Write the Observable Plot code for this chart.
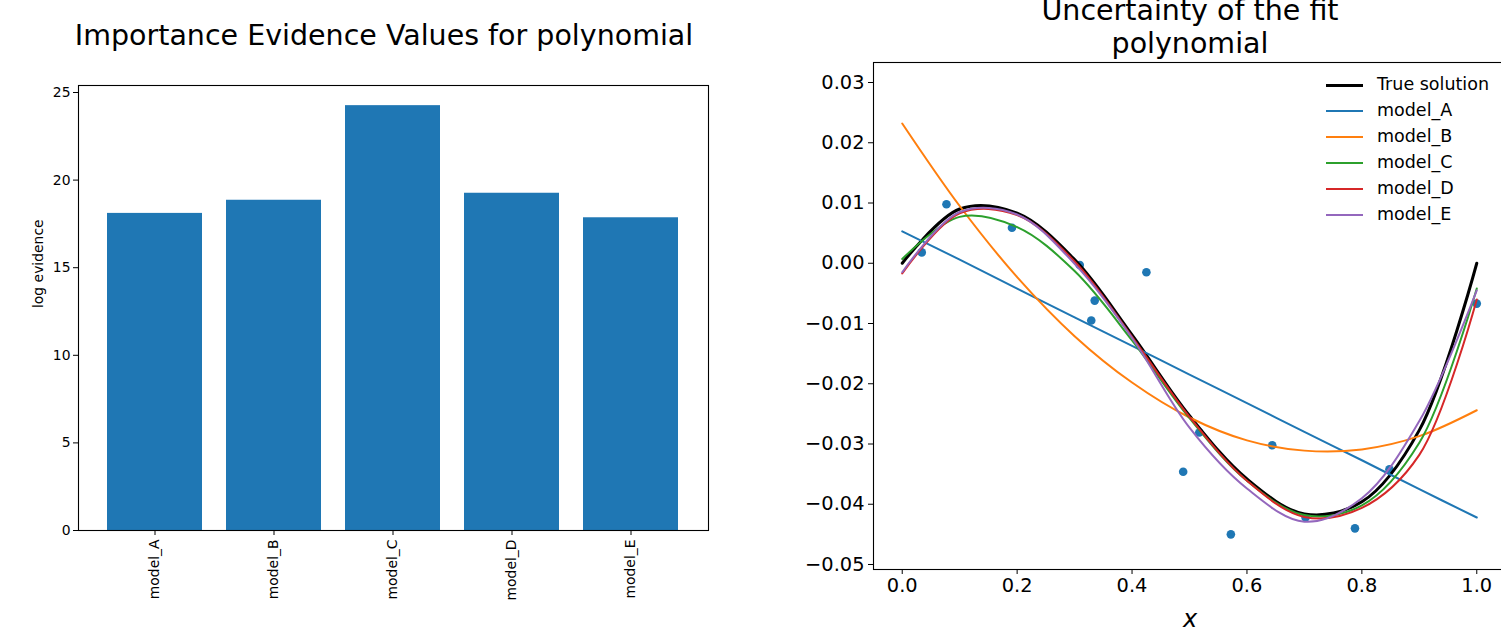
<!DOCTYPE html>
<html>
<head>
<meta charset="utf-8">
<script src="https://cdn.jsdelivr.net/npm/d3@7"></script>
<script src="https://cdn.jsdelivr.net/npm/@observablehq/plot@0.6"></script>
<style>
  html, body { margin: 0; padding: 0; background: #fff; }
  body { width: 1501px; height: 637px; overflow: hidden; position: relative; font-family: "DejaVu Sans", sans-serif; color: #000; }
  .abs { position: absolute; white-space: nowrap; }
  .title { font-size: 28.5px; line-height: 28px; transform: translateX(-50%); text-align: center; }
  .leg { font-size: 17.5px; line-height: 20px; }
  svg { max-width: none !important; }
</style>
</head>
<body>
<div id="left" class="abs" style="left:0;top:0;width:750px;height:637px;"></div>
<div id="right" class="abs" style="left:760px;top:0;width:760px;height:637px;"></div>
<script>
// ---------- data: left chart ----------
const models = ["model_A", "model_B", "model_C", "model_D", "model_E"];
const logEvidence = [18.1, 18.85, 24.25, 19.25, 17.85];
const evidenceTicks = [0, 5, 10, 15, 20, 25];

// ---------- data: right chart ----------
const xGrid = [0, 0.1, 0.2, 0.3, 0.4, 0.5, 0.6, 0.7, 0.8, 0.9, 1.0];
const trueSolution = [0.0000, 0.0090, 0.0083, 0.0006, -0.0119, -0.0253, -0.0358, -0.0416, -0.0396, -0.0277, 0.0000];
const modelA = [0.0053, 0.0006, -0.0042, -0.0090, -0.0137, -0.0185, -0.0232, -0.0280, -0.0327, -0.0375, -0.0422];
const modelB = [0.0232, 0.0095, -0.0023, -0.0121, -0.0198, -0.0256, -0.0294, -0.0311, -0.0309, -0.0287, -0.0244];
const modelC = [0.0007, 0.0077, 0.0060, -0.0013, -0.0128, -0.0257, -0.0361, -0.0418, -0.0402, -0.0298, -0.0042];
const modelD = [-0.0017, 0.0083, 0.0080, 0.0003, -0.0122, -0.0255, -0.0361, -0.0421, -0.0406, -0.0318, -0.0060];
const modelE = [-0.0015, 0.0085, 0.0081, -0.0001, -0.0124, -0.0273, -0.0374, -0.0429, -0.0390, -0.0262, -0.0045];
const obsX = [0.034, 0.077, 0.191, 0.309, 0.329, 0.335, 0.425, 0.489, 0.517, 0.572, 0.644, 0.702, 0.788, 0.848, 1.0];
const obsY = [0.0018, 0.0098, 0.0059, -0.0003, -0.0095, -0.0062, -0.0015, -0.0346, -0.0281, -0.0450, -0.0302, -0.0422, -0.0440, -0.0342, -0.0067];
const seriesNames = ["True solution", "model_A", "model_B", "model_C", "model_D", "model_E"];
const seriesColors = ["#000000", "#1f77b4", "#ff7f0e", "#2ca02c", "#d62728", "#9467bd"];
const seriesValues = [trueSolution, modelA, modelB, modelC, modelD, modelE];
const xTicks = [0, 0.2, 0.4, 0.6, 0.8, 1.0];
const yTicks = [0.03, 0.02, 0.01, 0.00, -0.01, -0.02, -0.03, -0.04, -0.05];

// ---------- left chart ----------
const barData = models.map((m, i) => ({model: m, value: logEvidence[i]}));
const left = Plot.plot({
  width: 750, height: 637,
  marginLeft: 78, marginRight: 42, marginTop: 85, marginBottom: 107,
  style: {fontFamily: "DejaVu Sans", fontSize: "13.9px", background: "transparent", color: "#000", overflow: "visible", maxWidth: "none"},
  x: {domain: models, paddingInner: 0.2, paddingOuter: 0.24, align: 0.5, label: null, tickRotate: -90, tickSize: 5, tickPadding: 4},
  y: {domain: [0, 25.4], ticks: evidenceTicks, tickFormat: d3.format("d"), label: null, tickSize: 5, tickPadding: 3},
  marks: [
    Plot.barY(barData, {x: "model", y: "value", fill: "#1f77b4"}),
    Plot.frame({stroke: "#000", strokeWidth: 1.1}),
    Plot.text(["log evidence"], {frameAnchor: "left", rotate: -90, dx: -40, fontSize: 13.9, fill: "#000"})
  ]
});
document.getElementById("left").appendChild(left);

// ---------- right chart ----------
const lineData = [];
seriesNames.forEach((name, s) => {
  xGrid.forEach((x, i) => lineData.push({series: name, x, y: seriesValues[s][i]}));
});
const obsData = obsX.map((x, i) => ({x, y: obsY[i]}));
const right = Plot.plot({
  width: 760, height: 637,
  marginLeft: 113, marginRight: 15, marginTop: 62, marginBottom: 68,
  style: {fontFamily: "DejaVu Sans", fontSize: "19.4px", background: "transparent", color: "#000", overflow: "visible", maxWidth: "none"},
  x: {domain: [-0.05, 1.05], ticks: xTicks, tickFormat: d3.format(".1f"), label: null, tickSize: 5, tickPadding: 4},
  y: {domain: [-0.05083, 0.03332], ticks: yTicks, tickFormat: d3.format(".2f"), label: null, tickSize: 5, tickPadding: 4},
  color: {domain: seriesNames, range: seriesColors},
  marks: [
    Plot.dot(obsData, {x: "x", y: "y", r: 4.3, fill: "#1f77b4", stroke: "none"}),
    ...seriesNames.map((name, s) =>
      Plot.line(lineData.filter(d => d.series === name), {
        x: "x", y: "y", stroke: seriesColors[s],
        strokeWidth: s === 0 ? 3 : 2, curve: "catmull-rom"
      })
    ),
    Plot.frame({stroke: "#000", strokeWidth: 1.1})
  ]
});
document.getElementById("right").appendChild(right);

// ---------- titles, labels, legend ----------
function addText(txt, cls, style) {
  const d = document.createElement("div");
  d.className = "abs " + cls;
  d.setAttribute("style", style);
  d.textContent = txt;
  document.body.appendChild(d);
  return d;
}
addText("Importance Evidence Values for polynomial", "title", "left:384px;top:22px;");
addText("Uncertainty of the fit", "title", "left:1190px;top:-3px;");
addText("polynomial", "title", "left:1190px;top:30px;");
addText("x", "", "left:1183px;top:605px;font-size:24px;font-style:italic;line-height:28px;");

seriesNames.forEach((name, i) => {
  const yc = 85 + 26 * i;
  const lw = i === 0 ? 3 : 2;
  const sw = document.createElement("div");
  sw.className = "abs";
  sw.setAttribute("style", `left:1326px;top:${yc - lw / 2}px;width:37px;height:0;border-top:${lw}px solid ${seriesColors[i]};`);
  document.body.appendChild(sw);
  addText(name, "leg", `left:1377px;top:${yc - 11}px;`);
});
</script>
</body>
</html>
